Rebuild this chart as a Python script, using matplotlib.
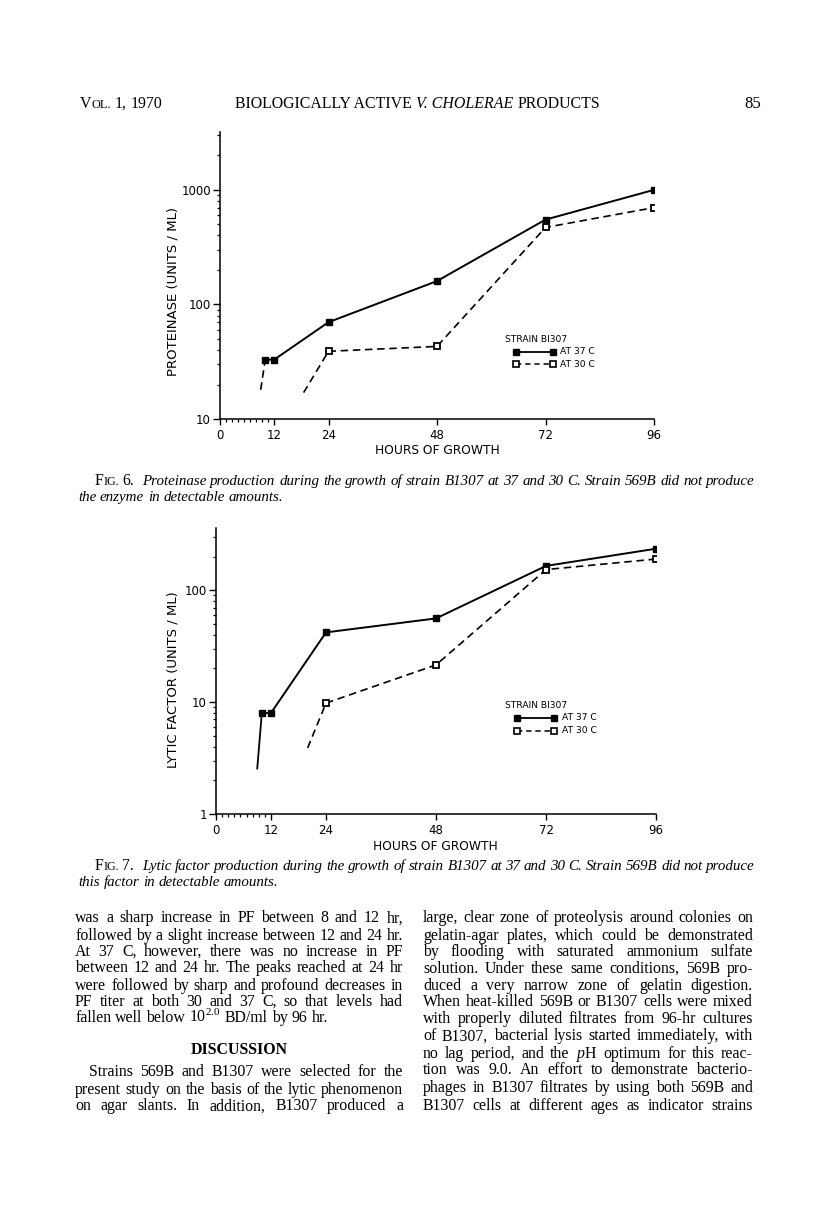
import numpy as np
import matplotlib
matplotlib.use('Agg')
import matplotlib.pyplot as plt
from matplotlib.lines import Line2D
from matplotlib.ticker import LogLocator, NullFormatter

plt.rcParams['mathtext.fontset'] = 'custom'
plt.rcParams['mathtext.rm'] = 'Liberation Serif'
plt.rcParams['mathtext.it'] = 'Liberation Serif:italic'
plt.rcParams['mathtext.bf'] = 'Liberation Serif:bold'

# ---------------- data ----------------
hour_ticks = [0, 12, 24, 48, 72, 96]
hour_labels = ['0', '12', '24', '48', '72', '96']

prot_hours_37 = [10, 12, 24, 48, 72, 96]
prot_37 = [33, 33, 70, 160, 550, 1000]
prot_lead_hours_37 = [9, 10]
prot_lead_37 = [18, 33]
prot_hours_30 = [24, 48, 72, 96]
prot_30 = [39, 43, 470, 700]
prot_lead_hours_30 = [18.5, 24]
prot_lead_30 = [17, 39]
prot_yticks = [10, 100, 1000]
prot_ylabels = ['10', '100', '1000']

lyt_hours_37 = [10, 12, 24, 48, 72, 96]
lyt_37 = [8, 8, 42, 56, 165, 235]
lyt_lead_hours_37 = [9, 10]
lyt_lead_37 = [2.55, 8]
lyt_hours_30 = [24, 48, 72, 96]
lyt_30 = [9.8, 21.5, 153, 190]
lyt_lead_hours_30 = [20, 24]
lyt_lead_30 = [3.9, 9.8]
lyt_yticks = [1, 10, 100]
lyt_ylabels = ['1', '10', '100']

legend_title = 'STRAIN BI307'
legend_37 = 'AT 37 C'
legend_30 = 'AT 30 C'

left_col = [
    "was a sharp increase in PF between 8 and 12 hr,",
    "followed by a slight increase between 12 and 24 hr.",
    "At 37 C, however, there was no increase in PF",
    "between 12 and 24 hr. The peaks reached at 24 hr",
    "were followed by sharp and profound decreases in",
    "PF titer at both 30 and 37 C, so that levels had",
    "fallen well below 10$^{2.0}$ BD/ml by 96 hr.",
]
left_col2 = [
    "Strains 569B and B1307 were selected for the",
    "present study on the basis of the lytic phenomenon",
    "on agar slants. In addition, B1307 produced a",
]
right_col = [
    "large, clear zone of proteolysis around colonies on",
    "gelatin-agar plates, which could be demonstrated",
    "by flooding with saturated ammonium sulfate",
    "solution. Under these same conditions, 569B pro-",
    "duced a very narrow zone of gelatin digestion.",
    "When heat-killed 569B or B1307 cells were mixed",
    "with properly diluted filtrates from 96-hr cultures",
    "of B1307, bacterial lysis started immediately, with",
    "no lag period, and the $p$H optimum for this reac-",
    "tion was 9.0. An effort to demonstrate bacterio-",
    "phages in B1307 filtrates by using both 569B and",
    "B1307 cells at different ages as indicator strains",
]
cap6 = ["Proteinase production during the growth of strain B1307 at 37 and 30 C. Strain 569B did not produce",
        "the enzyme in detectable amounts."]
cap7 = ["Lytic factor production during the growth of strain B1307 at 37 and 30 C. Strain 569B did not produce",
        "this factor in detectable amounts."]

# ---------------- figure ----------------
W, H = 816, 1214
fig = plt.figure(figsize=(W / 100, H / 100), dpi=100)
fig.patch.set_facecolor('white')
renderer = fig.canvas.get_renderer()


def fx(x):
    return x / W


def fy(y):
    return 1 - y / H


def width_of(s, **kw):
    t = fig.text(0, 0, s, **kw)
    w = t.get_window_extent(renderer).width
    t.remove()
    return w


def space_of(**kw):
    return width_of('a a', **kw) - width_of('aa', **kw)


def draw_runs(runs, x, y, ha='left'):
    """runs: list of (text, kw) ; None means a space using previous kw"""
    items = []
    last_kw = {}
    for r in runs:
        if r is None:
            items.append((None, space_of(**last_kw), last_kw))
        else:
            s, kw = r
            last_kw = kw
            items.append((s, width_of(s, **kw), kw))
    total = sum(w for _, w, _ in items)
    if ha == 'center':
        x -= total / 2
    elif ha == 'right':
        x -= total
    for s, w, kw in items:
        if s is not None:
            fig.text(fx(x), fy(y), s, ha='left', va='baseline', **kw)
        x += w
    return x


def draw_justified(line, x0, x1, y, justify=True, **kw):
    words = line.split(' ')
    ws = [width_of(w, **kw) for w in words]
    if justify and len(words) > 1:
        gap = (x1 - x0 - sum(ws)) / (len(words) - 1)
    else:
        gap = space_of(**kw)
    x = x0
    for w, wd in zip(words, ws):
        fig.text(fx(x), fy(y), w, ha='left', va='baseline', **kw)
        x += wd + gap


SERIF = 'Liberation Serif'
SANS = 'DejaVu Sans'

# ---------------- header ----------------
hsize = 10.5
tw = width_of("BIOLOGICALLY ACTIVE V. CHOLERAE PRODUCTS", family=SERIF, fontsize=hsize)
hsize = hsize * 371 / tw
big = dict(family=SERIF, fontsize=hsize)
small = dict(family=SERIF, fontsize=hsize * 0.78)
draw_runs([("V", big), ("OL.", small), None, ("1,", big), None, ("1970", big)], 80, 108)
title_runs = [("BIOLOGICALLY ACTIVE", big), None,
              ("V. CHOLERAE", dict(family=SERIF, fontsize=hsize, style='italic')), None,
              ("PRODUCTS", big)]
draw_runs(title_runs, 417.5, 108, ha='center')
draw_runs([("85", dict(family=SERIF, fontsize=hsize * 1.05))], 761, 108, ha='right')


# ---------------- charts ----------------
def make_axes(x0, x1, ytop, ybot):
    return fig.add_axes([fx(x0), fy(ybot), (x1 - x0) / W, (ybot - ytop) / H])


def style_axes(ax, ylim, yticks, ylabels):
    ax.set_yscale('log')
    ax.set_xlim(0, 96)
    ax.set_ylim(*ylim)
    ax.patch.set_alpha(0)
    for s in ('top', 'right'):
        ax.spines[s].set_visible(False)
    for s in ('left', 'bottom'):
        ax.spines[s].set_linewidth(1.1)
    ax.set_xticks(hour_ticks)
    ax.set_xticklabels(hour_labels, family=SANS, fontsize=8.5)
    ax.set_xticks(np.linspace(0, 12, 10)[1:-1], minor=True)
    ax.set_yticks(yticks)
    ax.set_yticklabels(ylabels, family=SANS, fontsize=8.5)
    ax.yaxis.set_minor_locator(LogLocator(base=10, subs=np.arange(2, 10)))
    ax.yaxis.set_minor_formatter(NullFormatter())
    ax.tick_params(axis='x', which='major', direction='out', length=4, width=1.0, pad=3)
    ax.tick_params(axis='x', which='minor', direction='out', length=2.5, width=0.9)
    ax.tick_params(axis='y', which='major', direction='out', length=5, width=1.0, pad=1.5)
    ax.tick_params(axis='y', which='minor', direction='out', length=2.5, width=0.9)


DASH = (4.5, 2.8)
MS = 4.5


def plot_series(ax, h37, v37, lh37, lv37, lead37_dashed, h30, v30, lh30, lv30):
    if lead37_dashed:
        ax.plot(lh37, lv37, color='k', lw=1.2, dashes=DASH, zorder=2)
    else:
        ax.plot(lh37, lv37, color='k', lw=1.3, zorder=2)
    ax.plot(lh30, lv30, color='k', lw=1.2, dashes=DASH, zorder=2)
    ax.plot(h37, v37, color='k', lw=1.4, marker='s', ms=MS, mfc='k', mec='k', zorder=3)
    ax.plot(h30, v30, color='k', lw=1.2, dashes=DASH, marker='s', ms=MS, mfc='white',
            mec='k', mew=1.3, zorder=3)


def draw_legend(xt, yt, xm0, xm1, xtext, y1, y2):
    fig.text(fx(xt), fy(yt), legend_title, family=SANS, fontsize=6.6, ha='left', va='center')
    fig.add_artist(Line2D([fx(xm0), fx(xm1)], [fy(y1), fy(y1)], transform=fig.transFigure,
                          color='k', lw=1.3, marker='s', ms=4.0, mfc='k', mec='k'))
    fig.add_artist(Line2D([fx(xm0), fx(xm1)], [fy(y2), fy(y2)], transform=fig.transFigure,
                          color='k', lw=1.1, dashes=(3.5, 2.5), marker='s', ms=4.0, mfc='white',
                          mec='k', mew=1.2))
    fig.text(fx(xtext), fy(y1), legend_37, family=SANS, fontsize=6.6, ha='left', va='center')
    fig.text(fx(xtext), fy(y2), legend_30, family=SANS, fontsize=6.6, ha='left', va='center')


# Fig. 6
ax1 = make_axes(220, 654, 132, 419)
style_axes(ax1, (10, 3200), prot_yticks, prot_ylabels)
plot_series(ax1, prot_hours_37, prot_37, prot_lead_hours_37, prot_lead_37, True,
            prot_hours_30, prot_30, prot_lead_hours_30, prot_lead_30)
draw_legend(505, 340, 515.7, 552.7, 560, 351.7, 364.3)
fig.text(fx(173), fy(292), 'PROTEINASE (UNITS / ML)', family=SANS, fontsize=9.5,
         rotation=90, ha='center', va='center')
fig.text(fx(437), fy(451), 'HOURS OF GROWTH', family=SANS, fontsize=8.8, ha='center', va='center')

# Fig. 7
ax2 = make_axes(216, 656, 528, 814)
style_axes(ax2, (1, 360), lyt_yticks, lyt_ylabels)
plot_series(ax2, lyt_hours_37, lyt_37, lyt_lead_hours_37, lyt_lead_37, False,
            lyt_hours_30, lyt_30, lyt_lead_hours_30, lyt_lead_30)
draw_legend(505, 705, 516.7, 554.3, 562, 718, 730.5)
fig.text(fx(173), fy(680), 'LYTIC FACTOR (UNITS / ML)', family=SANS, fontsize=9.5,
         rotation=90, ha='center', va='center')
fig.text(fx(435), fy(846), 'HOURS OF GROWTH', family=SANS, fontsize=8.8, ha='center', va='center')

# ---------------- captions ----------------
cap_it = dict(family=SERIF, style='italic', fontsize=10)
nat = width_of(cap6[0], **cap_it)
csize = 10 * (755 - 140) / nat
cap_it = dict(family=SERIF, style='italic', fontsize=csize)
up = dict(family=SERIF, fontsize=csize * 1.05)
upsm = dict(family=SERIF, fontsize=csize * 0.8)


def draw_caption(num, lines, y1, y2):
    x = draw_runs([("F", up), ("IG.", upsm), None, (num + ".", up), None, None], 95, y1)
    draw_justified(lines[0], x, 755, y1, justify=True, **cap_it)
    draw_justified(lines[1], 78, 755, y2, justify=False, **cap_it)


draw_caption("6", cap6, 485, 501)
draw_caption("7", cap7, 870, 886)

# ---------------- body text ----------------
body = dict(family=SERIF, fontsize=10)
L0, L1 = 75, 403
R0, R1 = 423, 753
ratios = []
for ln in left_col[:-1] + left_col2 + right_col:
    ratios.append((L1 - L0) / width_of(ln, **body))
bsize = 10 * min(ratios) * 0.995
body = dict(family=SERIF, fontsize=bsize)

left_y = [918, 935, 951.5, 968, 985, 1001.5, 1018]
for i, (ln, y) in enumerate(zip(left_col, left_y)):
    draw_justified(ln, L0, L1, y + 4.5, justify=(i < len(left_col) - 1), **body)
fig.text(fx(239), fy(1049 + 4.5), 'DISCUSSION', family=SERIF, fontweight='bold',
         fontsize=bsize, ha='center', va='baseline')
left2_y = [1072, 1089, 1106]
for i, (ln, y) in enumerate(zip(left_col2, left2_y)):
    draw_justified(ln, L0 + (14 if i == 0 else 0), L1, y + 4.5, justify=True, **body)

right_y = [918, 935, 952, 968.5, 985, 1002, 1018.5, 1036, 1053, 1070, 1088, 1106]
for ln, y in zip(right_col, right_y):
    draw_justified(ln, R0, R1, y + 4.5, justify=True, **body)

fig.savefig('out.png', dpi=100, facecolor='white')
